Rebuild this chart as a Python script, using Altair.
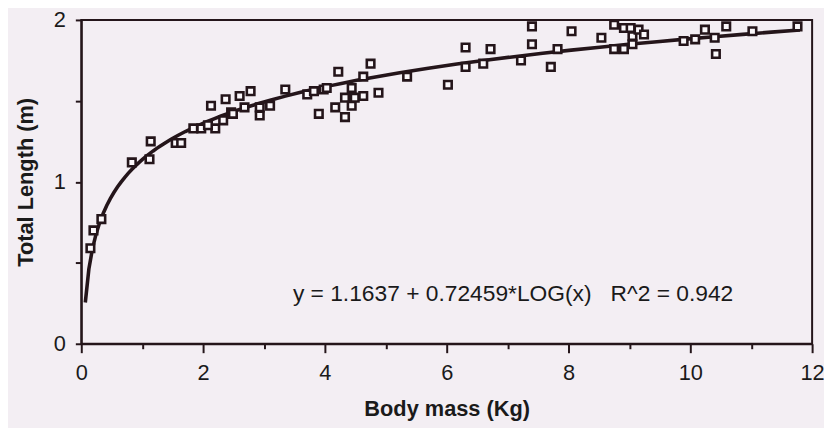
import altair as alt
import pandas as pd

# Data
mass = [0.15, 0.2, 0.33, 0.83, 1.14, 1.12, 1.55, 1.64, 1.84, 1.97,
        2.2, 2.08, 2.13, 2.33, 2.37, 2.46, 2.49, 2.6, 2.78, 2.93,
        2.93, 3.1, 3.35, 3.71, 3.82, 3.9, 3.98, 4.03, 4.22, 4.17,
        4.33, 4.33, 4.44, 4.44, 4.49, 4.63, 4.63, 4.75, 4.88, 5.35,
        6.02, 6.31, 6.31, 6.6, 6.72, 7.22, 7.4, 7.4, 7.71, 7.82,
        8.05, 8.54, 8.75, 8.75, 8.91, 8.91, 9.02, 9.05, 9.05, 9.15,
        9.24, 9.89, 10.08, 10.24, 10.4, 10.42, 10.59, 11.02, 11.76,
        2.68]
length = [0.59, 0.70, 0.77, 1.12, 1.25, 1.14, 1.24, 1.24, 1.33, 1.33,
          1.33, 1.35, 1.47, 1.38, 1.51, 1.43, 1.42, 1.53, 1.56, 1.46,
          1.41, 1.47, 1.57, 1.54, 1.56, 1.42, 1.57, 1.58, 1.68, 1.46,
          1.52, 1.40, 1.58, 1.47, 1.52, 1.53, 1.65, 1.73, 1.55, 1.65,
          1.60, 1.83, 1.71, 1.73, 1.82, 1.75, 1.96, 1.85, 1.71, 1.82,
          1.93, 1.89, 1.97, 1.82, 1.95, 1.82, 1.95, 1.90, 1.85, 1.94,
          1.91, 1.87, 1.88, 1.94, 1.89, 1.79, 1.96, 1.93, 1.96,
          1.46]

x_ticks = list(range(13))
y_ticks = [0, 0.5, 1, 1.5, 2]
fit_extent = [0.066, 11.8]
equation_text = ["y = 1.1637 + 0.72459*LOG(x)\u00a0\u00a0\u00a0R^2 = 0.942"]

df = pd.DataFrame({"mass": mass, "length": length})

ink = "#24151a"
bg = "#f3eef3"
font = "Liberation Sans"

x_scale = alt.Scale(domain=[0, 12], nice=False, zero=False)
y_scale = alt.Scale(domain=[0, 2], nice=False)

x_axis = alt.Axis(
    values=x_ticks,
    labelExpr="datum.value % 2 == 0 ? format(datum.value, 'd') : ''",
    tickSize={"condition": {"test": "datum.value % 2 == 0", "value": 9}, "value": 5},
    title="Body mass (Kg)",
    labelPadding=10,
    labelFlush=False,
    titlePadding=15,
)
y_axis = alt.Axis(
    values=y_ticks,
    labelExpr="datum.value % 1 == 0 ? format(datum.value, 'd') : ''",
    tickSize=6,
    title="Total Length (m)",
    labelPadding=10,
    labelFlush=False,
    titlePadding=16,
)

base = alt.Chart(df)

fit = base.transform_regression(
    "mass", "length", method="log", extent=fit_extent
).mark_line(color=ink, strokeWidth=3.6).encode(
    x=alt.X("mass:Q", scale=x_scale, axis=x_axis),
    y=alt.Y("length:Q", scale=y_scale, axis=y_axis),
)

points = base.mark_point(
    shape="square", filled=True, fill="#fbf8fb", stroke=ink,
    strokeWidth=2.6, size=58, opacity=1,
).encode(
    x=alt.X("mass:Q", scale=x_scale),
    y=alt.Y("length:Q", scale=y_scale),
)

label = alt.Chart(pd.DataFrame({"t": equation_text})).mark_text(
    font=font, fontSize=23, color="#1a1a1a", align="center", baseline="middle"
).encode(text="t:N", x=alt.value(436), y=alt.value(277))

chart = alt.layer(fit, points, label).properties(
    width=738, height=327,
    autosize=alt.AutoSizeParams(type="none"),
    padding={"left": 74, "top": 10, "right": 12, "bottom": 83},
    background=bg,
).configure_view(
    stroke=ink, strokeWidth=2
).configure_axis(
    grid=False,
    domainColor=ink, domainWidth=2,
    tickColor=ink, tickWidth=2,
    labelFont=font, labelFontSize=22, labelColor="#1a1a1a",
    titleFont=font, titleFontSize=22, titleFontWeight="bold", titleColor="#1a1a1a",
)

chart.save("out.html", embed_options={"renderer": "svg", "actions": False})
